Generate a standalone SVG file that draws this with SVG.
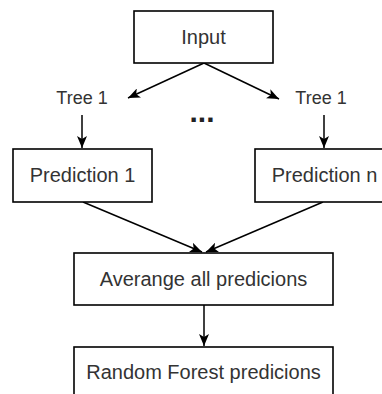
<svg xmlns="http://www.w3.org/2000/svg" width="382" height="394" viewBox="0 0 382 394">
<defs>
<marker id="arr" viewBox="0 0 12 10" refX="12" refY="5" markerWidth="12" markerHeight="10" markerUnits="userSpaceOnUse" orient="auto">
<path d="M0,0 L12,5 L0,10 L3,5 z" fill="#000"/>
</marker>
<style>
.box{fill:#fff;stroke:#000;stroke-width:1.6}
.t{font-family:"Liberation Sans",Arial,sans-serif;font-size:20px;fill:#333;text-anchor:middle}
.lbl{font-family:"Liberation Sans",Arial,sans-serif;font-size:18px;fill:#333;text-anchor:middle}
.c{fill:none;stroke:#000;stroke-width:1.5;marker-end:url(#arr)}
</style>
</defs>
<rect width="382" height="394" fill="#fff"/>
<g id="connectors">
<path class="c" d="M204,63 L128,98"/>
<path class="c" d="M204,63 L279,99"/>
<path class="c" d="M82,115 L82,148"/>
<path class="c" d="M324,115 L324,148"/>
<path class="c" d="M83,202 L202,252"/>
<path class="c" d="M323,202 L206,252"/>
<path class="c" d="M204,305 L204,346"/>
</g>
<g id="input"><rect class="box" x="134" y="11" width="139" height="52"/><text class="t" x="203.5" y="44">Input</text></g>
<g id="tree-left"><text class="lbl" x="82" y="104">Tree 1</text></g>
<g id="tree-right"><text class="lbl" x="321" y="104">Tree 1</text></g>
<g id="dots"><text x="202" y="122" font-family="Liberation Sans,Arial,sans-serif" font-size="30" font-weight="bold" fill="#222" text-anchor="middle">...</text></g>
<g id="prediction-1"><rect class="box" x="13" y="149" width="139" height="53"/><text class="t" x="82.5" y="182">Prediction 1</text></g>
<g id="prediction-n"><rect class="box" x="255" y="149" width="139" height="53"/><text class="t" x="324.5" y="182">Prediction n</text></g>
<g id="average"><rect class="box" x="74" y="253" width="259" height="52"/><text class="t" x="203.5" y="286">Averange all predicions</text></g>
<g id="random-forest"><rect class="box" x="74" y="347" width="259" height="52"/><text class="t" x="203.5" y="379">Random Forest predicions</text></g>
</svg>
